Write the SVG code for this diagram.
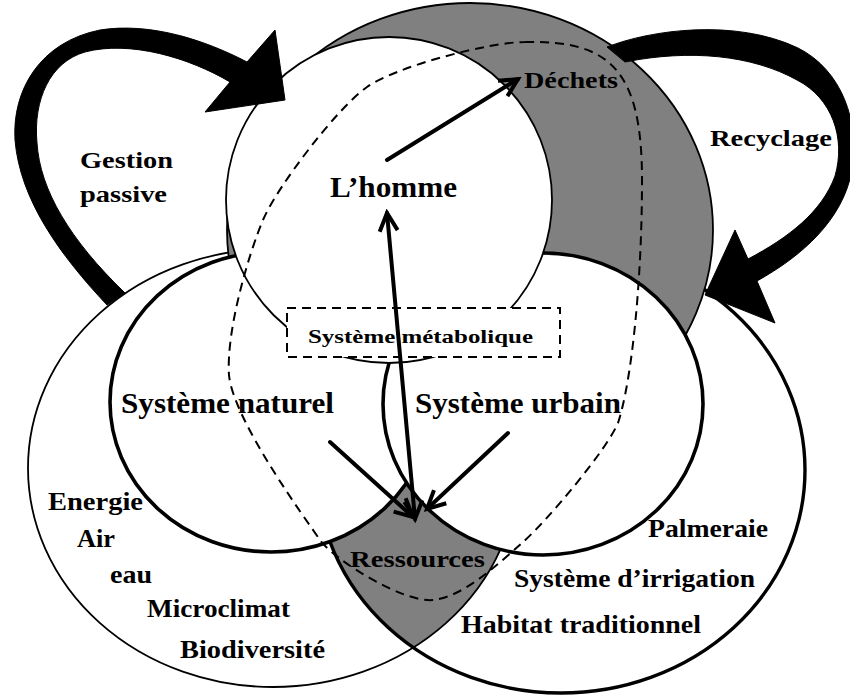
<svg xmlns="http://www.w3.org/2000/svg" width="850" height="696" viewBox="0 0 850 696">
  <defs>
    <style>
      .fill-white{fill:#fff;stroke:none}
      .line-thin{fill:none;stroke:#000;stroke-width:1.8}
      .line-thick{fill:none;stroke:#000;stroke-width:3.4}
      .sys{fill:#fff;stroke:#000;stroke-width:3.6}
      .grey{fill:#808080}
      .dash{fill:none;stroke:#000;stroke-width:2;stroke-dasharray:9 6}
      .flow{fill:none;stroke:#000;stroke-width:4;stroke-linecap:round;marker-end:url(#head)}
      .band{fill:#000;stroke:#000;stroke-width:1}
      text{font-family:"Liberation Serif","Times New Roman",serif;font-weight:bold;fill:#000}
      .big{font-size:30px}
      .mid{font-size:25px}
      .small{font-size:19px}
    </style>
    <marker id="head" viewBox="-22 -12 26 24" markerWidth="26" markerHeight="24" refX="0" refY="0" orient="auto-start-reverse" markerUnits="userSpaceOnUse">
      <path d="M-18,-9 L0,0 L-18,9" fill="none" stroke="#000" stroke-width="4"/>
    </marker>
    <clipPath id="clip-naturel-big">
      <ellipse cx="273" cy="468" rx="245" ry="219"/>
    </clipPath>
  </defs>

  <!-- outer territories: natural environment (left) and urban fabric (right) -->
  <g id="territoires">
    <ellipse class="fill-white" cx="273" cy="468" rx="245" ry="219"/>
    <ellipse class="fill-white" cx="561" cy="470" rx="244" ry="223"/>
    <!-- shared zone = resources -->
    <ellipse class="grey" cx="561" cy="470" rx="244" ry="223" clip-path="url(#clip-naturel-big)"/>
    <ellipse class="line-thin" cx="273" cy="468" rx="245" ry="219"/>
    <ellipse class="line-thick" cx="561" cy="470" rx="244" ry="223"/>
  </g>

  <!-- waste crescent around the human sphere -->
  <g id="dechets-zone">
    <ellipse class="grey" cx="470" cy="230" rx="243" ry="227" stroke="#000" stroke-width="1.8"/>
  </g>

  <g id="systeme-naturel">
    <ellipse class="sys" cx="271" cy="402" rx="161" ry="150"/>
  </g>
  <g id="systeme-urbain">
    <ellipse class="sys" cx="543" cy="404" rx="160" ry="151"/>
  </g>

  <g id="homme">
    <circle cx="389" cy="200" r="163" fill="#fff" stroke="#000" stroke-width="1.8"/>
  </g>

  <!-- metabolic system boundary -->
  <g id="systeme-metabolique">
    <path class="dash" d="M525,42 C610,40 642,70 642,180 C642,280 632,380 618,423 C606,451 547,521 522,543 C497,565 463,597 433,600 C403,603 333,559 320,540 C307,521 233,420 229,375 C226,330 249,253 263,220 C277,187 337,108 367,87 C397,66 490,42 525,42 Z"/>
    <rect x="287" y="308" width="273" height="49" fill="#fff" stroke="#000" stroke-width="2" stroke-dasharray="9 6"/>
  </g>

  <!-- flows -->
  <g id="connecteurs">
    <line class="flow" x1="387" y1="160" x2="518" y2="79"/>
    <line class="flow" x1="415" y1="519" x2="387" y2="213" style="marker-start:url(#head)"/>
    <line class="flow" x1="330" y1="442" x2="413" y2="517"/>
    <line class="flow" x1="508" y1="433" x2="427" y2="509"/>
    <!-- passive management loop -->
    <path class="band" d="M107,305 C60,255 20,200 15,140 C12,90 40,42 100,30 C150,22 205,40 247,62 L275,30 L285,100 L205,112 L230,82 C190,58 130,40 85,52 C50,62 33,100 37,143 C40,190 70,240 125,293 Z"/>
    <!-- recycling loop -->
    <path class="band" d="M607,47 C650,30 735,18 798,48 C842,70 860,122 852,170 C843,220 802,256 757,281 L775,323 L705,295 L735,230 L748,259 C788,238 822,212 835,176 C846,138 832,98 797,80 C752,55 690,49 625,62 Z"/>
  </g>

  <g id="labels">
    <text x="80" y="168" font-size="23" textLength="93" lengthAdjust="spacingAndGlyphs">Gestion</text>
    <text x="80" y="202" font-size="23" textLength="87" lengthAdjust="spacingAndGlyphs">passive</text>
    <text class="big" x="330" y="197" textLength="127" lengthAdjust="spacingAndGlyphs">L’homme</text>
    <text x="524" y="88" font-size="24" textLength="94" lengthAdjust="spacingAndGlyphs">Déchets</text>
    <text x="710" y="146" font-size="24" textLength="122" lengthAdjust="spacingAndGlyphs">Recyclage</text>
    <text class="small" x="308" y="343" textLength="225" lengthAdjust="spacingAndGlyphs">Système métabolique</text>
    <text class="big" x="121" y="413" textLength="213" lengthAdjust="spacingAndGlyphs">Système naturel</text>
    <text class="big" x="415" y="413" textLength="206" lengthAdjust="spacingAndGlyphs">Système urbain</text>
    <text x="350" y="567" font-size="23" textLength="135" lengthAdjust="spacingAndGlyphs">Ressources</text>
    <text class="mid" x="48" y="510" textLength="95" lengthAdjust="spacingAndGlyphs">Energie</text>
    <text class="mid" x="77" y="547" textLength="38" lengthAdjust="spacingAndGlyphs">Air</text>
    <text class="mid" x="110" y="583" textLength="42" lengthAdjust="spacingAndGlyphs">eau</text>
    <text class="mid" x="147" y="617" textLength="143" lengthAdjust="spacingAndGlyphs">Microclimat</text>
    <text class="mid" x="180" y="658" textLength="145" lengthAdjust="spacingAndGlyphs">Biodiversité</text>
    <text class="mid" x="648" y="537" textLength="120" lengthAdjust="spacingAndGlyphs">Palmeraie</text>
    <text class="mid" x="514" y="587" textLength="241" lengthAdjust="spacingAndGlyphs">Système d’irrigation</text>
    <text class="mid" x="461" y="633" textLength="240" lengthAdjust="spacingAndGlyphs">Habitat traditionnel</text>
  </g>
</svg>
